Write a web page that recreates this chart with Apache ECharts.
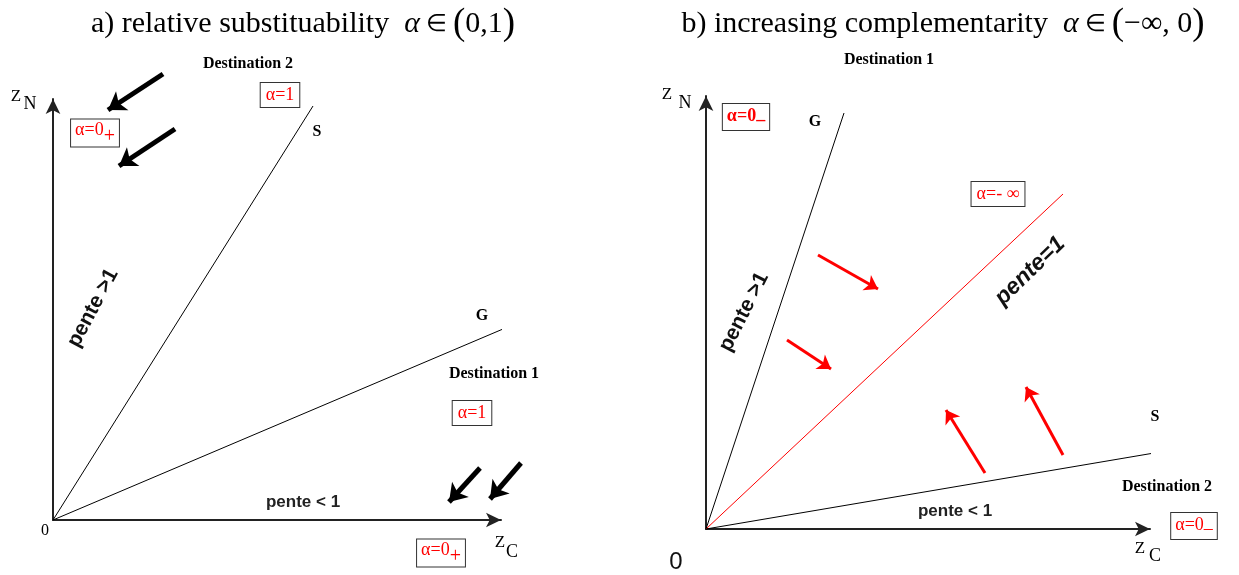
<!DOCTYPE html>
<html>
<head>
<meta charset="utf-8">
<script src="https://cdn.jsdelivr.net/npm/echarts@6/dist/echarts.min.js"></script>
<style>html,body{margin:0;padding:0;background:#fff}#c{width:1239px;height:575px}</style>
</head>
<body>
<div id="c"></div>
<script>
// ---- Panel titles ----
const titleLeft = ['a) relative substituability  ', 'α', ' ∈ ', '(', '0,1', ')'];
const titleRight = ['b) increasing complementarity  ', 'α', ' ∈ ', '(', '−∞, 0', ')'];

// ---- Panel a (left): diagram units, origin at the axes' corner ----
const leftAxisMax = [448, 421];
const leftRays = [            // name, end point of ray from origin
  ['S', [260, 414]],
  ['G', [450, 191]]
];
const leftArrows = [          // from -> to
  [[110, 446], [55, 410]],
  [[122, 391], [66, 354]],
  [[427, 52], [396, 18]],
  [[468, 57], [437, 21]]
];
const leftLabels = [          // x, y, text, kind, angle
  [195, 456, 'Destination 2', 'dest', 0],
  [227, 425, 'α=1', 'box', 0],
  [264, 388, 'S', 'letter', 0],
  [42, 387, 'α=0|+', 'boxPlus', 0],
  [-37, 423, 'Z', 'axisMain', 0],
  [-23, 416, 'N', 'axisSub', 0],
  [40, 212, 'pente >1', 'slope', 62],
  [429, 204, 'G', 'letter', 0],
  [441, 146, 'Destination 1', 'dest', 0],
  [419, 107, 'α=1', 'box', 0],
  [250, 18, 'pente < 1', 'slopeFlat', 0],
  [-8, -11, '0', 'zeroSerif', 0],
  [388, -33, 'α=0|+', 'boxPlus', 0],
  [447, -23, 'Z', 'axisMain', 0],
  [459, -32, 'C', 'axisSub', 0]
];

// ---- Panel b (right) ----
const rightAxisMax = [444, 433];
const rightRays = [
  ['G', [138, 416], 'black'],
  ['pente=1', [357, 335], 'red'],
  ['S', [460, 78], 'black']
];
const rightArrows = [
  [[112, 274], [172, 240]],
  [[81, 189], [125, 160]],
  [[279, 56], [240, 119]],
  [[357, 74], [320, 142]]
];
const rightLabels = [
  [183, 469, 'Destination 1', 'dest', 0],
  [-39, 434, 'Z', 'axisMain', 0],
  [-21, 426, 'N', 'axisSub', 0],
  [40, 412, 'α=0|–', 'boxMinus', 0],
  [109, 407, 'G', 'letter', 0],
  [292, 335, 'α=- ∞', 'box', 0],
  [324, 258, 'pente=1', 'slopeItalic', 44],
  [38, 217, 'pente >1', 'slope', 63],
  [449, 112, 'S', 'letter', 0],
  [461, 42, 'Destination 2', 'dest', 0],
  [249, 18, 'pente < 1', 'slopeFlat', 0],
  [488, 3, 'α=0|–', 'boxMinusLight', 0],
  [434, -20, 'Z', 'axisMain', 0],
  [449, -27, 'C', 'axisSub', 0],
  [-30, -33, '0', 'zeroSans', 0]
];

// ---- styles ----
const SERIF = '"Liberation Serif","Times New Roman",serif';
const SANS = '"Liberation Sans",Arial,sans-serif';
const RED = '#ff0000';
const boxFrame = {borderColor: '#333', borderWidth: 1, backgroundColor: '#fff'};
function subBox(weight, subSize, subLH, pad) {
  return Object.assign({padding: pad,
    rich: {
      m: {fontFamily: SERIF, fontSize: 18, fontWeight: weight, color: RED, lineHeight: 20, verticalAlign: 'top'},
      s: {fontFamily: SERIF, fontSize: subSize, fontWeight: weight, color: RED, lineHeight: subLH, verticalAlign: 'bottom'}
    }}, boxFrame);
}
const labelStyles = {
  dest: {fontFamily: SERIF, fontWeight: 'bold', fontSize: 16, color: '#000'},
  letter: {fontFamily: SERIF, fontWeight: 'bold', fontSize: 16, color: '#000'},
  box: Object.assign({fontFamily: SERIF, fontSize: 18, color: RED, padding: [4, 5, 2, 5]}, boxFrame),
  boxPlus: subBox('normal', 20, 25, [2, 4, 0, 4]),
  boxMinus: subBox('bold', 18, 22, [3, 4, 1, 4]),
  boxMinusLight: subBox('normal', 18, 22, [3, 4, 1, 4]),
  axisMain: {fontFamily: SERIF, fontSize: 17, color: '#000'},
  axisSub: {fontFamily: SERIF, fontSize: 18, color: '#000'},
  slope: {fontFamily: SANS, fontWeight: 'bold', fontSize: 21, color: '#111'},
  slopeFlat: {fontFamily: SANS, fontWeight: 'bold', fontSize: 17, color: '#222'},
  slopeItalic: {fontFamily: SANS, fontWeight: 'bold', fontStyle: 'italic', fontSize: 23, color: '#111'},
  zeroSerif: {fontFamily: SERIF, fontSize: 16, color: '#000'},
  zeroSans: {fontFamily: SANS, fontSize: 24, color: '#111'}
};

function titleRich(parts) {
  return '{t|' + parts[0] + '}{a|' + parts[1] + '}{e|' + parts[2] + '}{p|' + parts[3] + '}{t|' + parts[4] + '}{p|' + parts[5] + '}';
}
const titleStyle = {
  fontWeight: 'normal',
  rich: {
    t: {fontFamily: SERIF, fontSize: 30, fontWeight: 'normal', color: '#000'},
    a: {fontFamily: SERIF, fontSize: 30, fontStyle: 'italic', fontWeight: 'normal', color: '#000'},
    e: {fontFamily: SERIF, fontSize: 24, fontWeight: 'normal', color: '#000'},
    p: {fontFamily: SERIF, fontSize: 37, fontWeight: 'normal', color: '#000'}
  }
};

function axis(gridIndex, max) {
  return {
    type: 'value', gridIndex: gridIndex, min: 0, max: max,
    axisLine: {show: true, onZero: false, lineStyle: {color: '#222', width: 2},
               symbol: ['none', 'arrow'], symbolSize: [11, 15]},
    axisTick: {show: false}, axisLabel: {show: false}, splitLine: {show: false}
  };
}

function raySeries(gi, rays) {
  return rays.map(r => ({
    type: 'line', xAxisIndex: gi, yAxisIndex: gi, clip: false, silent: true,
    symbol: 'none', data: [[0, 0], r[1]],
    lineStyle: {color: r[2] === 'red' ? RED : '#000', width: 1}, z: 3
  }));
}
function arrowSeries(gi, arrows, color, width, size) {
  return {
    type: 'lines', coordinateSystem: 'cartesian2d', xAxisIndex: gi, yAxisIndex: gi,
    silent: true, clip: false, symbol: ['none', 'arrow'], symbolSize: size,
    lineStyle: {color: color, width: width, opacity: 1, curveness: 0},
    data: arrows.map(a => ({coords: [a[0], a[1]]})), z: 4
  };
}
function labelText(text, kind) {
  if (kind.indexOf('boxPlus') === 0 || kind.indexOf('boxMinus') === 0) {
    const p = text.split('|');
    return '{m|' + p[0] + '}{s|' + p[1] + '}';
  }
  return text;
}
function labelSeries(gi, labels) {
  return {
    type: 'scatter', xAxisIndex: gi, yAxisIndex: gi, clip: false, silent: true,
    symbolSize: 0, z: 5, itemStyle: {opacity: 1},
    data: labels.map(l => ({
      value: [l[0], l[1]],
      label: Object.assign({show: true, position: [0, 0], formatter: labelText(l[2], l[3]), rotate: l[4],
                            align: 'center', verticalAlign: 'middle', textBorderWidth: 0},
                           labelStyles[l[3]])
    }))
  };
}

const chart = echarts.init(document.getElementById('c'), null, {renderer: 'canvas'});
chart.setOption({
  backgroundColor: '#fff',
  animation: false,
  title: [
    {text: titleRich(titleLeft), left: 298, top: 1, textAlign: 'center', textStyle: titleStyle},
    {text: titleRich(titleRight), left: 938, top: 1, textAlign: 'center', textStyle: titleStyle}
  ],
  grid: [
    {left: 53, top: 99, width: leftAxisMax[0], height: leftAxisMax[1]},
    {left: 706, top: 96, width: rightAxisMax[0], height: rightAxisMax[1]}
  ],
  xAxis: [axis(0, leftAxisMax[0]), axis(1, rightAxisMax[0])],
  yAxis: [axis(0, leftAxisMax[1]), axis(1, rightAxisMax[1])],
  series: [].concat(
    raySeries(0, leftRays),
    raySeries(1, rightRays),
    [arrowSeries(0, leftArrows, '#000', 5, 17),
     arrowSeries(1, rightArrows, RED, 3, 13),
     labelSeries(0, leftLabels),
     labelSeries(1, rightLabels)]
  )
});
</script>
</body>
</html>
